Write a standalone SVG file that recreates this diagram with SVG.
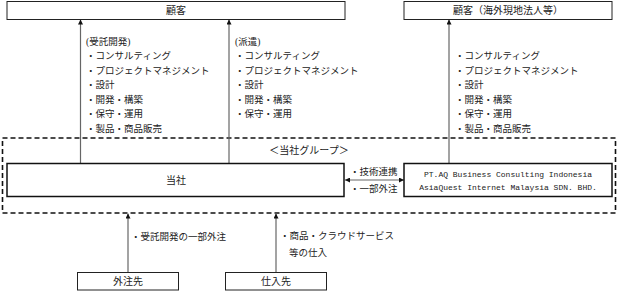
<svg xmlns="http://www.w3.org/2000/svg" width="618" height="291" viewBox="0 0 618 291">
<style>
text{font-family:"Liberation Serif","Noto Sans CJK JP",serif;fill:#222;dominant-baseline:central}
.t{font-size:10px;text-anchor:middle}
.l{font-size:9.5px}
.m{font-family:"Liberation Mono","Noto Sans CJK JP",monospace;font-size:8px;text-anchor:middle}
.box{fill:#fff;stroke:#222;stroke-width:1}
.bbox{fill:#fff;stroke:#111;stroke-width:1.5}
.c{stroke:#666;stroke-width:1.2;fill:none}
</style>
<defs>
<marker id="ah" viewBox="0 0 10 10" refX="10" refY="5" markerWidth="5" markerHeight="5" markerUnits="userSpaceOnUse" orient="auto-start-reverse">
<path d="M0,0 L10,5 L0,10 z" fill="#111"/>
</marker>
</defs>
<g id="group">
<rect x="2.5" y="138" width="613" height="75" fill="none" stroke="#111" stroke-width="1.6" stroke-dasharray="5 3"/>
<text class="t" x="309" y="150">＜当社グループ＞</text>
</g>
<g id="connectors">
<line class="c" x1="80.5" y1="163" x2="80.5" y2="19.5" marker-end="url(#ah)"/>
<line class="c" x1="229" y1="163" x2="229" y2="19.5" marker-end="url(#ah)"/>
<line class="c" x1="449" y1="163" x2="449" y2="19.5" marker-end="url(#ah)"/>
<line class="c" x1="345" y1="180" x2="404" y2="180" marker-start="url(#ah)" marker-end="url(#ah)"/>
<line class="c" x1="128" y1="272" x2="128" y2="213.5" marker-end="url(#ah)"/>
<line class="c" x1="276" y1="272" x2="276" y2="213.5" marker-end="url(#ah)"/>
<text class="l" x="86" y="41.5">(受託開発)</text>
<text class="l" x="86" y="56">・コンサルティング</text>
<text class="l" x="86" y="70.5">・プロジェクトマネジメント</text>
<text class="l" x="86" y="85">・設計</text>
<text class="l" x="86" y="99.5">・開発・構築</text>
<text class="l" x="86" y="114">・保守・運用</text>
<text class="l" x="86" y="128.5">・製品・商品販売</text>
<text class="l" x="235" y="41.5">(派遣)</text>
<text class="l" x="235" y="56">・コンサルティング</text>
<text class="l" x="235" y="70.5">・プロジェクトマネジメント</text>
<text class="l" x="235" y="85">・設計</text>
<text class="l" x="235" y="99.5">・開発・構築</text>
<text class="l" x="235" y="114">・保守・運用</text>
<text class="l" x="455" y="56">・コンサルティング</text>
<text class="l" x="455" y="70.5">・プロジェクトマネジメント</text>
<text class="l" x="455" y="85">・設計</text>
<text class="l" x="455" y="99.5">・開発・構築</text>
<text class="l" x="455" y="114">・保守・運用</text>
<text class="l" x="455" y="128.5">・製品・商品販売</text>
<text class="l" x="350" y="172">・技術連携</text>
<text class="l" x="350" y="189">・一部外注</text>
<text class="l" x="131" y="237">・受託開発の一部外注</text>
<text class="l" x="280" y="236">・商品・クラウドサービス</text>
<text class="l" x="289" y="253">等の仕入</text>
</g>
<g id="customer">
<rect class="box" x="7" y="1.5" width="338" height="18"/>
<text class="t" x="176" y="10.5">顧客</text>
</g>
<g id="customer-overseas">
<rect class="box" x="404" y="1.5" width="208" height="18"/>
<text class="t" x="508" y="10.5">顧客（海外現地法人等）</text>
</g>
<g id="company">
<rect class="bbox" x="7" y="163.5" width="337" height="33"/>
<text class="t" x="176" y="180">当社</text>
</g>
<g id="subsidiaries">
<rect class="bbox" x="404" y="163.5" width="208" height="33"/>
<text class="m" x="508" y="174">PT.AQ Business Consulting Indonesia</text>
<text class="m" x="508" y="187">AsiaQuest Internet Malaysia SDN. BHD.</text>
</g>
<g id="subcontractor">
<rect class="box" x="77.5" y="272.5" width="101" height="17.5"/>
<text class="t" x="128" y="281">外注先</text>
</g>
<g id="supplier">
<rect class="box" x="225.5" y="272.5" width="101" height="17.5"/>
<text class="t" x="276" y="281">仕入先</text>
</g>
</svg>
